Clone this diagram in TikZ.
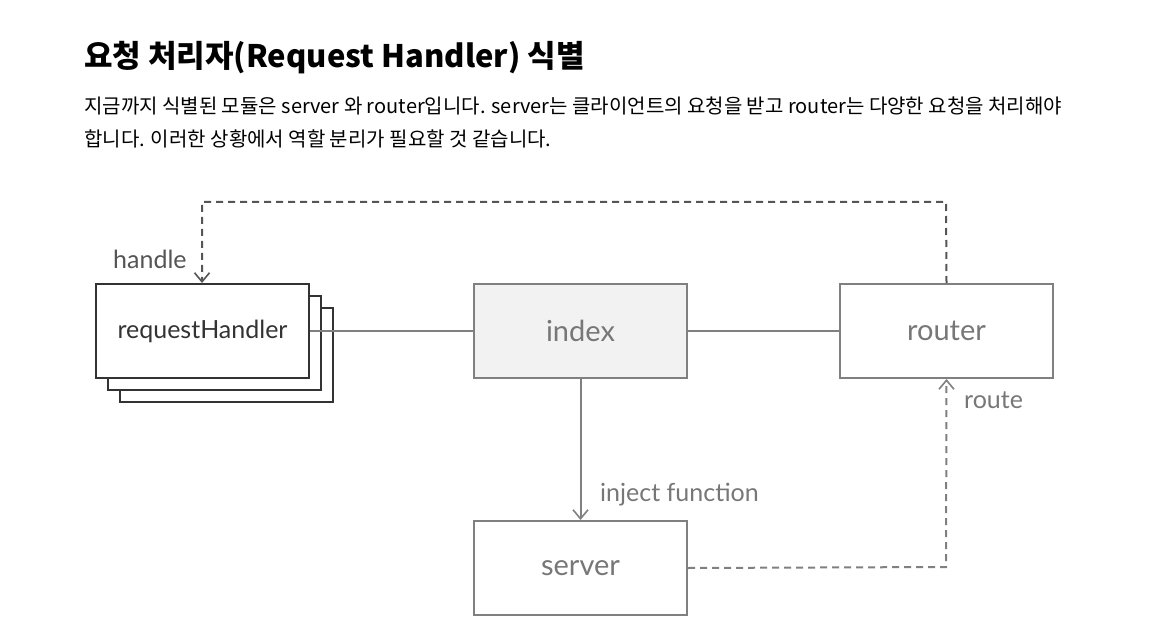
\documentclass[tikz,border=0pt]{standalone}
\usepackage{fontspec}
\setmainfont{Noto Sans CJK KR}
\newfontfamily\lblfont{Lato}
\usetikzlibrary{arrows.meta}
\definecolor{boxgray}{HTML}{808080}
\definecolor{txtgray}{HTML}{777777}
\definecolor{darkline}{HTML}{555555}
\definecolor{idxfill}{HTML}{F2F2F2}
\tikzset{
  box/.style={draw=boxgray, line width=2pt, minimum width=213pt, minimum height=94pt, inner sep=0pt,
              font=\lblfont\fontsize{29}{32}\selectfont, text=txtgray},
  rhbox/.style={draw=black!80, line width=2pt, fill=white, minimum width=213pt, minimum height=94pt, inner sep=0pt,
              font=\lblfont\fontsize{25}{28}\selectfont, text=black!80},
  conn/.style={boxgray, line width=2pt},
  dconn/.style={line width=2pt, dash pattern=on 7pt off 5pt},
  tip/.style={-{Straight Barb[length=9pt,width=15pt,line width=1.6pt]}},
  lbl/.style={font=\lblfont\fontsize{25}{28}\selectfont, inner sep=0pt}
}
\begin{document}
\begin{tikzpicture}[x=1pt,y=-1pt]
\useasboundingbox (0,0) rectangle (1156,636);
\fill[white] (0,0) rectangle (1156,636);
% texts
\node[anchor=west, inner sep=0pt, font=\fontsize{31}{36}\selectfont\bfseries] (title) at (84,58) {요청 처리자(Request Handler) 식별};
\node[anchor=west, inner sep=0pt, font=\fontsize{20}{24}\selectfont] (p1) at (84,106) {지금까지 식별된 모듈은 server 와 router입니다. server는 클라이언트의 요청을 받고 router는 다양한 요청을 처리해야};
\node[anchor=west, inner sep=0pt, font=\fontsize{20}{24}\selectfont] (p2) at (84,139) {합니다. 이러한 상황에서 역할 분리가 필요할 것 같습니다.};
% stacked requestHandler
\node[rhbox, anchor=north west] (rh3) at (119,307) {};
\node[rhbox, anchor=north west] (rh2) at (107,295) {};
\node[rhbox, anchor=north west] (rh) at (95,283) {requestHandler};
% others
\node[box, fill=idxfill, anchor=north west] (index) at (473,283) {index};
\node[box, anchor=north west] (router) at (839,283) {router};
\node[box, anchor=north west] (server) at (473,520) {server};
% connectors
\draw[conn] (rh.east) -- (index.west);
\draw[conn] (index.east) -- (router.west);
\draw[conn, tip] (index.south) -- (server.north);
\draw[dconn, darkline, tip] (router.north) -- (946,202) -- (202,202) -- (rh.north -| 202,0);
\draw[dconn, boxgray, tip] (server.east) -- (946,567) -- (router.south);
% labels
\node[lbl, text=darkline, anchor=west] (handle) at (113,259) {handle};
\node[lbl, text=txtgray, anchor=west] (route) at (964,400) {route};
\node[lbl, text=txtgray, anchor=west] (inject) at (600,495) {inject function};
\end{tikzpicture}
\end{document}
